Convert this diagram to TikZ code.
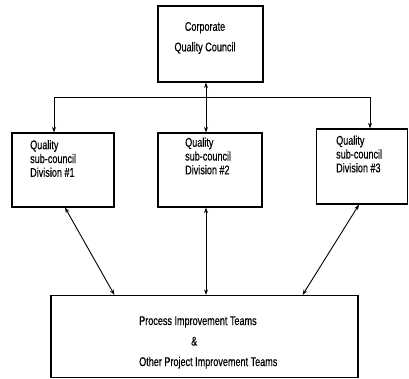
\documentclass[tikz,border=0pt]{standalone}
\usepackage{fontspec}
\setmainfont{Liberation Sans}[FakeStretch=0.72,FakeBold=0.4]
\usetikzlibrary{arrows.meta,calc}

\begin{document}
\begin{tikzpicture}[x=1pt,y=-1pt,
  box/.style={draw, line width=1.2pt, inner sep=0pt},
  txt/.style={font=\fontsize{12.6}{13.8}\selectfont, inner sep=0pt, align=left, anchor=west},
  feed/.style={line width=0.9pt, -{Stealth[length=5.5pt,width=4pt]}},
  link/.style={line width=0.9pt, {Stealth[length=5.5pt,width=4pt]}-{Stealth[length=5.5pt,width=4pt]}}]
\useasboundingbox (0,0) rectangle (409,379);

% boxes
\node[box, minimum width=105pt, minimum height=76pt] (top) at (210.5,44) {};
\node[box, minimum width=102pt, minimum height=74pt] (div1) at (63,170) {};
\node[box, minimum width=104pt, minimum height=74pt] (div2) at (210,170) {};
\node[box, minimum width=91pt, minimum height=75pt] (div3) at (362,166.5) {};
\node[box, minimum width=307pt, minimum height=82pt] (teams) at (204.5,336.5) {};

% labels
\node[txt, align=center, anchor=center, font=\fontsize{12.6}{20.5}\selectfont] (topl) at (205,38) {Corporate\\Quality Council};
\node[txt] (div1l) at (30,158.5) {Quality\\sub-council\\Division \#1};
\node[txt] (div2l) at (185,156) {Quality\\sub-council\\Division \#2};
\node[txt] (div3l) at (336,154) {Quality\\sub-council\\Division \#3};
\node[txt, font=\fontsize{12.6}{20.5}\selectfont] (teamsl) at (139,342.5)
  {Process Improvement Teams\\\hspace*{52pt}\&\\Other Project Improvement Teams};

% distribution bus from the council
\coordinate (hub) at (206,97.5);
\coordinate (busl) at (54,97.5);
\coordinate (busr) at (370,97.5);
\draw[feed] (hub) -- (hub |- top.south);
\draw[feed] (hub) -- (hub |- div2.north);
\draw[feed] (hub) -| (busl |- div1.north);
\draw[feed] (hub) -| (busr |- div3.north);

% links between sub-councils and teams
\draw[link] ([xshift=2pt]div1.south) -- ([xshift=64pt]teams.north west);
\draw[link] (hub |- div2.south) -- (hub |- teams.north);
\draw[link] ([xshift=-3pt]div3.south) -- ([xshift=-56pt]teams.north east);
\end{tikzpicture}
\end{document}
